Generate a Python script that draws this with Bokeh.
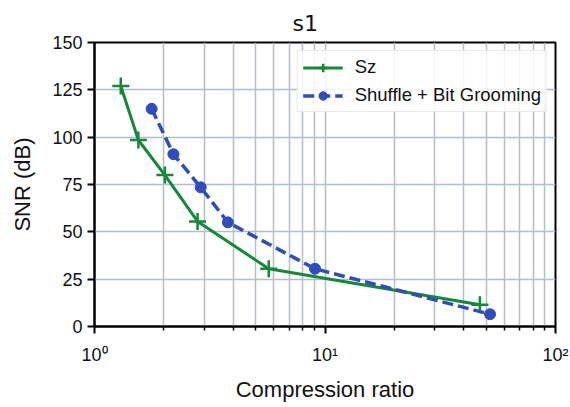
from bokeh.plotting import figure
from bokeh.models import FixedTicker, Legend, LegendItem
from bokeh.embed import file_html
from bokeh.resources import INLINE

# SNR versus compression ratio for two lossy compression schemes
sz_ratio = [1.30, 1.55, 2.02, 2.80, 5.7, 47.0]
sz_snr = [127, 98.5, 80, 55.5, 30.5, 11.5]

sbg_ratio = [1.77, 2.20, 2.89, 3.79, 9.05, 52.0]
sbg_snr = [115, 91, 73.5, 55, 30.5, 6.5]

x_major = [1, 10, 100]
x_minor = [2, 3, 4, 5, 6, 7, 8, 9, 20, 30, 40, 50, 60, 70, 80, 90]
x_labels = {1: "10\u2070", 10: "10\u00b9", 100: "10\u00b2"}
y_ticks = [0, 25, 50, 75, 100, 125, 150]

GREEN = "#14893a"
BLUE = "#2f4dbd"
GRID = "#b4bec8"
FONT = "Liberation Sans"
INK = "#111111"

p = figure(width=570, height=407, x_axis_type="log", x_range=(1, 100), y_range=(0, 150),
           output_backend="svg", toolbar_location=None,
           min_border_left=94, min_border_right=15, min_border_top=42, min_border_bottom=81)

p.title.text = "s1"
p.title.text_font = "DejaVu Sans"
p.title.text_font_size = "22px"
p.title.text_font_style = "normal"
p.title.text_color = INK
p.title.align = "left"
p.title.offset = 198
p.title.standoff = 13

p.outline_line_color = "black"
p.outline_line_width = 2
p.outline_line_alpha = 1

p.xaxis.ticker = FixedTicker(ticks=x_major, minor_ticks=x_minor)
p.xaxis.major_label_overrides = x_labels
p.yaxis.ticker = FixedTicker(ticks=y_ticks)

for ax in (p.xaxis, p.yaxis):
    ax.axis_line_width = 2
    ax.axis_line_color = "black"
    ax.major_tick_line_width = 2
    ax.major_tick_line_color = "black"
    ax.major_tick_out = 7
    ax.major_tick_in = 0
    ax.minor_tick_line_width = 1.5
    ax.minor_tick_line_color = "black"
    ax.minor_tick_out = 4
    ax.minor_tick_in = 0
    ax.major_label_text_font = FONT
    ax.major_label_text_font_size = "18px"
    ax.major_label_text_color = INK
    ax.axis_label_text_font = FONT
    ax.axis_label_text_font_size = "22px"
    ax.axis_label_text_font_style = "normal"
    ax.axis_label_text_color = INK

p.xaxis.axis_label = "Compression ratio"
p.yaxis.axis_label = "SNR (dB)"
p.xaxis.major_label_standoff = 11
p.xaxis.axis_label_standoff = 9
p.yaxis.major_label_standoff = 5
p.yaxis.axis_label_standoff = 14

p.xgrid.grid_line_color = GRID
p.xgrid.grid_line_width = 1.5
p.xgrid.minor_grid_line_color = GRID
p.xgrid.minor_grid_line_width = 1.5
p.ygrid.grid_line_color = GRID
p.ygrid.grid_line_width = 1.5

sz_line = p.line(sz_ratio, sz_snr, line_color=GREEN, line_width=3)
sz_pts = p.scatter(sz_ratio, sz_snr, marker="cross", size=17, line_color=GREEN, line_width=2.5)

sbg_line = p.line(sbg_ratio, sbg_snr, line_color=BLUE, line_width=3.5, line_dash="11 5")
sbg_pts = p.scatter(sbg_ratio, sbg_snr, marker="circle", size=11, fill_color=BLUE, line_color=BLUE)

legend = Legend(items=[
    LegendItem(label="Sz", renderers=[sz_line, sz_pts]),
    LegendItem(label="Shuffle + Bit Grooming", renderers=[sbg_line, sbg_pts]),
], location="top_right")
legend.margin = 8
legend.padding = 5
legend.spacing = 6
legend.glyph_width = 40
legend.glyph_height = 21
legend.label_standoff = 12
legend.label_text_font = FONT
legend.label_text_font_size = "18.5px"
legend.label_text_color = INK
legend.border_line_color = "#d0d4d8"
legend.border_line_width = 1.5
legend.background_fill_alpha = 0.85
p.add_layout(legend)

open("out.html", "w").write(file_html(p, INLINE))
